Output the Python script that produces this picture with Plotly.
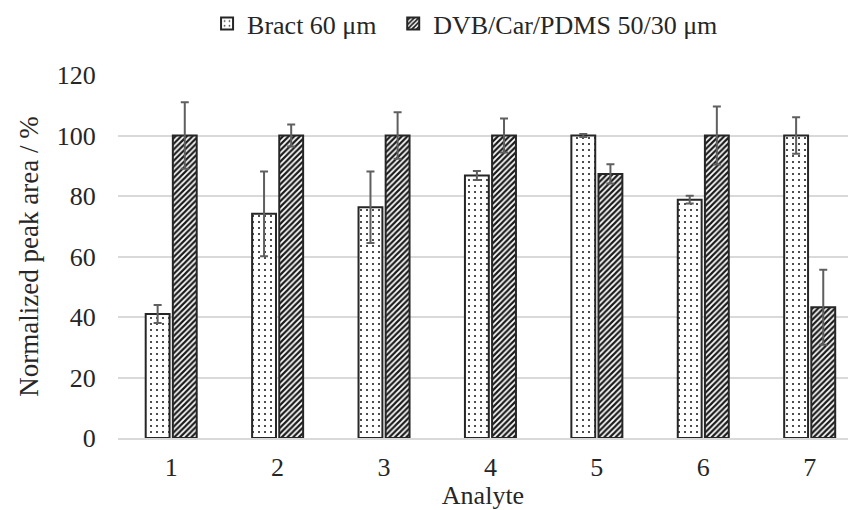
import plotly.graph_objects as go

analytes = ["1", "2", "3", "4", "5", "6", "7"]
bract = [41.0, 74.1, 76.3, 86.8, 100.0, 78.8, 100.0]
bract_err = [3.0, 14.0, 11.8, 1.5, 0.5, 1.3, 6.0]
dvb = [100.0, 100.0, 100.0, 100.0, 87.3, 100.0, 43.2]
dvb_err = [11.0, 3.6, 7.7, 5.6, 3.2, 9.6, 12.4]
series_names = ["Bract 60 μm", "DVB/Car/PDMS 50/30 μm"]

FONT = "Liberation Serif"
TXT = "#262626"
EDGE = "#262626"
ERR = "#5f5f5f"
FS = 26

fig = go.Figure()
fig.add_trace(go.Bar(
    x=analytes, y=bract, name=series_names[0], legend="legend",
    marker=dict(color="white", line=dict(color=EDGE, width=2),
                pattern=dict(shape=".", fgcolor="#111111", bgcolor="white",
                             size=6, solidity=0.09, fgopacity=1)),
    error_y=dict(type="data", array=bract_err, color=ERR, thickness=2, width=4),
))
fig.add_trace(go.Bar(
    x=analytes, y=dvb, name=series_names[1], legend="legend2",
    marker=dict(color="white", line=dict(color=EDGE, width=2),
                pattern=dict(shape="/", fgcolor="#1a1a1a", bgcolor="white",
                             size=4, solidity=0.55, fgopacity=1)),
    error_y=dict(type="data", array=dvb_err, color=ERR, thickness=2, width=4),
))

legend_common = dict(orientation="h", xref="paper", xanchor="left",
                     yref="container", y=1.0, yanchor="top",
                     font=dict(family=FONT, size=FS, color=TXT),
                     itemwidth=30, bgcolor="rgba(0,0,0,0)")

fig.update_layout(
    width=848, height=510,
    margin=dict(l=118, r=0, t=75, b=72),
    paper_bgcolor="white", plot_bgcolor="white",
    font=dict(family=FONT, size=FS, color=TXT),
    barmode="group", bargap=0.49, bargroupgap=0.12,
    showlegend=True,
    legend=dict(x=0.122, **legend_common),
    legend2=dict(x=0.377, **legend_common),
    xaxis=dict(
        range=[-0.5, 6.36], showgrid=False, zeroline=False,
        showline=True, linecolor="#d9d9d9", linewidth=1.5,
        ticks="outside", ticklen=5, tickcolor="rgba(0,0,0,0)",
        tickfont=dict(family=FONT, size=FS, color=TXT),
        title=dict(text="Analyte", standoff=0,
                   font=dict(family=FONT, size=FS, color=TXT)),
    ),
    yaxis=dict(
        range=[0, 120], dtick=20, showgrid=True, gridcolor="#d9d9d9", gridwidth=1.5,
        zeroline=False, showline=False,
        ticks="outside", ticklen=16, tickcolor="rgba(0,0,0,0)",
        tickfont=dict(family=FONT, size=FS, color=TXT),
        title=dict(text="Normalized peak area / %", standoff=10,
                   font=dict(family=FONT, size=27, color=TXT)),
    ),
)

fig.write_html("out.html", config={"displayModeBar": False},
               post_script="document.body.style.margin='0';")
